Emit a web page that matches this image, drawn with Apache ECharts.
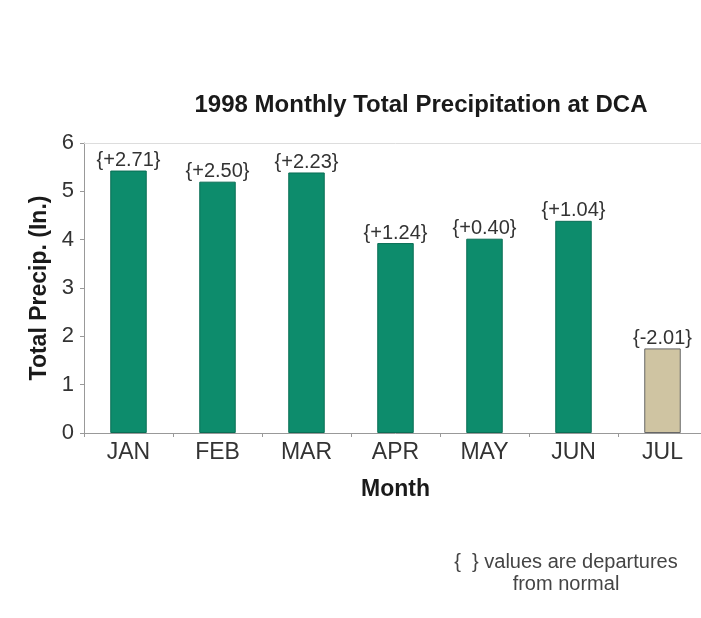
<!DOCTYPE html>
<html>
<head>
<meta charset="utf-8">
<script src="https://cdn.jsdelivr.net/npm/echarts@6/dist/echarts.min.js"></script>
<style>
  html, body { margin: 0; padding: 0; background: #fff; overflow: hidden; }
  #chart { width: 712px; height: 618px; }
</style>
</head>
<body>
<div id="chart"></div>
<script>
  // precipitation per month (inches) and departures from normal
  var months = ['JAN', 'FEB', 'MAR', 'APR', 'MAY', 'JUN', 'JUL'];
  var precip = [5.43, 5.20, 5.39, 3.93, 4.02, 4.39, 1.75];
  var departures = ['{+2.71}', '{+2.50}', '{+2.23}', '{+1.24}', '{+0.40}', '{+1.04}', '{-2.01}'];
  var yTicks = [0, 1, 2, 3, 4, 5, 6];

  var green = '#0d8c6c';
  var tan = '#cfc4a2';
  var font = 'Liberation Sans, Arial, sans-serif';

  // the plot runs a little past the right edge of the window, as in the original
  var chart = echarts.init(document.getElementById('chart'));
  chart.setOption({
    backgroundColor: '#fff',
    animation: false,
    textStyle: { fontFamily: font },
    grid: { left: 84, top: 143, right: 5, bottom: 185 },
    graphic: [
      {
        type: 'text', x: 421, y: 93,
        style: { text: '1998 Monthly Total Precipitation at DCA', font: 'bold 24px ' + font, fill: '#1a1a1a', textAlign: 'center' }
      },
      {
        type: 'text', x: 566, y: 551,
        style: { text: '{  } values are departures\nfrom normal', font: '20px ' + font, fill: '#444', textAlign: 'center', lineHeight: 22 }
      }
    ],
    xAxis: [
      {
        type: 'category',
        data: months,
        axisLine: { lineStyle: { color: '#999' } },
        axisTick: { show: true, length: 4, lineStyle: { color: '#999' } },
        axisLabel: { fontSize: 23, color: '#333', margin: 8 },
        name: 'Month',
        nameLocation: 'middle',
        nameGap: 45,
        nameTextStyle: { fontSize: 23, fontWeight: 'bold', color: '#1a1a1a' }
      },
      {
        type: 'category',
        position: 'top',
        data: months,
        axisLine: { lineStyle: { color: '#ddd' } },
        axisTick: { show: false },
        axisLabel: { show: false }
      }
    ],
    yAxis: {
      type: 'value',
      min: yTicks[0],
      max: yTicks[yTicks.length - 1],
      interval: 1,
      axisLine: { show: true, lineStyle: { color: '#999' } },
      axisTick: { show: true, length: 4, lineStyle: { color: '#999' } },
      splitLine: { show: false },
      axisLabel: { fontSize: 22, color: '#333', margin: 10 },
      name: 'Total Precip. (In.)',
      nameLocation: 'middle',
      nameGap: 30,
      nameTextStyle: { fontSize: 23, fontWeight: 'bold', color: '#1a1a1a' }
    },
    series: [{
      type: 'bar',
      barWidth: '41%',
      data: precip.map(function (v, i) {
        var last = i === precip.length - 1;
        return {
          value: v,
          itemStyle: { color: last ? tan : green, borderColor: last ? '#666' : '#0a6e55', borderWidth: 1 }
        };
      }),
      label: {
        show: true,
        position: 'top',
        distance: 0,
        fontSize: 20,
        color: '#333',
        formatter: function (p) { return departures[p.dataIndex]; }
      }
    }]
  });
</script>
</body>
</html>
